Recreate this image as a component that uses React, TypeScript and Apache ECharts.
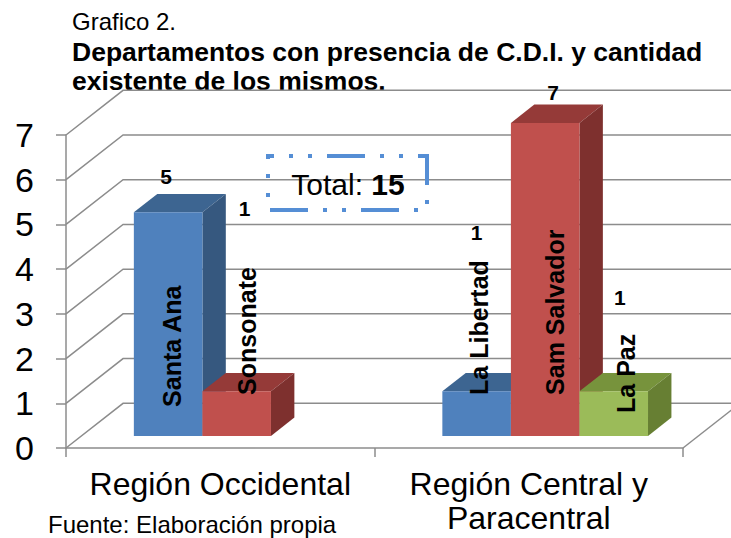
import React, { useEffect, useRef } from "react";
import * as echarts from "echarts";

const categories = ["Región Occidental", "Región Central y\nParacentral"];
const yTicks = [0, 1, 2, 3, 4, 5, 6, 7];
const seriesNames = ["Serie 1", "Serie 2", "Serie 3"];
const seriesValues: (number | null)[][] = [
  [5, 1],
  [1, 7],
  [null, 1],
];
const barNames: (string | null)[][] = [
  ["Santa Ana", "La Libertad"],
  ["Sonsonate", "Sam Salvador"],
  [null, "La Paz"],
];
// manual label placements (px offsets from bar front-top centre / front-bottom centre)
const valueLabelOffsets: (number[] | null)[][] = [
  [[-2, -36], [0, -159]],
  [[8, -183], [8, -30]],
  [null, [6, -94]],
];
const nameLabelOffsets: (number[] | null)[][] = [
  [[4, -29], [2, -41]],
  [[10, -41], [10, -41]],
  [null, [12, -23]],
];

const FONT = "'Liberation Sans', Arial, sans-serif";
const faces = [
  { front: "#4f81bd", top: "#3d6591", side: "#36587f" },
  { front: "#c0504d", top: "#953a38", side: "#7e302e" },
  { front: "#9bbb59", top: "#77933c", side: "#677f33" },
];
const GRID_COLOR = "#8c8c8c";
const GAP = 0.17;
const BARW = 2 / 9;
const DEPTH_X = 0.185;
const F1 = 0.27;
const F2 = 0.68;

export default function App() {
  const ref = useRef<HTMLDivElement>(null);
  useEffect(() => {
    if (!ref.current) return;
    const chart = echarts.init(ref.current, undefined, { renderer: "svg" });
    const total = seriesValues.flat().reduce((a: number, b) => a + (b || 0), 0);

    const frameSeries: any = {
      type: "custom",
      name: "frame",
      z: 1,
      silent: true,
      data: yTicks.map((v) => [0, v]),
      renderItem: (params: any, api: any) => {
        const v = api.value(1);
        const cs = params.coordSys;
        const p = api.coord([0, v]);
        const unit = api.size([0, 1])[1];
        const band = api.size([1, 0])[0];
        const dx = band * DEPTH_X;
        const y = p[1];
        const children: any[] = [
          {
            type: "polyline",
            shape: {
              points: [
                [cs.x, y],
                [cs.x + dx, y - unit],
                [cs.x + cs.width + dx + 20, y - unit],
              ],
            },
            style: { stroke: GRID_COLOR, lineWidth: 1.5, fill: "none" },
          },
        ];
        if (v === 0) {
          children.push({
            type: "line",
            shape: { x1: cs.x + cs.width, y1: y, x2: cs.x + cs.width + dx, y2: y - unit },
            style: { stroke: GRID_COLOR, lineWidth: 1.5 },
          });
        }
        return { type: "group", children };
      },
    };

    const barSeries: any[] = seriesValues.map((vals, s) => {
      const data: any[] = [];
      vals.forEach((v, c) => {
        if (v !== null) data.push([c, v]);
      });
      return {
        type: "custom",
        name: seriesNames[s],
        z: 2,
        data,
        renderItem: (params: any, api: any) => {
          const cat = api.value(0);
          const v = api.value(1);
          const topP = api.coord([cat, v]);
          const baseP = api.coord([cat, 0]);
          const band = api.size([1, 0])[0];
          const unit = api.size([0, 1])[1];
          const dx = band * DEPTH_X;
          const dy = -unit;
          const x0 = topP[0] - band / 2 + band * (GAP + s * BARW);
          const x1 = x0 + band * BARW;
          const ox1 = F1 * dx, oy1 = F1 * dy, ox2 = F2 * dx, oy2 = F2 * dy;
          const yt = topP[1], yb = baseP[1];
          const f = faces[s];
          const children: any[] = [
            {
              type: "polygon",
              shape: { points: [[x0 + ox1, yt + oy1], [x1 + ox1, yt + oy1], [x1 + ox2, yt + oy2], [x0 + ox2, yt + oy2]] },
              style: { fill: f.top },
            },
            {
              type: "polygon",
              shape: { points: [[x1 + ox1, yt + oy1], [x1 + ox2, yt + oy2], [x1 + ox2, yb + oy2], [x1 + ox1, yb + oy1]] },
              style: { fill: f.side },
            },
            {
              type: "rect",
              shape: { x: x0 + ox1, y: yt + oy1, width: x1 - x0, height: yb - yt },
              style: { fill: f.front },
            },
          ];
          const cx = (x0 + x1) / 2 + ox1;
          const vo = valueLabelOffsets[s][cat];
          if (vo) {
            children.push({
              type: "text",
              z2: 100,
              x: cx + vo[0],
              y: yt + oy1 + vo[1],
              style: {
                text: String(v),
                fontSize: 21,
                fontWeight: "bold",
                fontFamily: FONT,
                fill: "#000",
                align: "center",
                verticalAlign: "middle",
              },
            });
          }
          const no = nameLabelOffsets[s][cat];
          const nm = barNames[s][cat];
          if (no && nm) {
            children.push({
              type: "text",
              z2: 100,
              x: cx + no[0],
              y: yb + oy1 + no[1],
              rotation: Math.PI / 2,
              style: {
                text: nm,
                fontSize: 25,
                fontWeight: "bold",
                fontFamily: FONT,
                fill: "#000",
                align: "left",
                verticalAlign: "middle",
              },
            });
          }
          return { type: "group", children };
        },
      };
    });

    chart.setOption({
      animation: false,
      grid: { left: 66, right: 48, top: 135, bottom: 90, containLabel: false },
      xAxis: {
        type: "category",
        data: categories,
        axisLine: { show: true, lineStyle: { color: GRID_COLOR, width: 1.5 } },
        axisTick: { show: true, length: 9, lineStyle: { color: GRID_COLOR, width: 1.5 } },
        axisLabel: {
          interval: 0,
          fontSize: 32,
          lineHeight: 34,
          margin: 19,
          color: "#000",
          fontFamily: FONT,
        },
        splitLine: { show: false },
      },
      yAxis: {
        type: "value",
        min: 0,
        max: 7,
        interval: 1,
        axisLine: { show: true, lineStyle: { color: GRID_COLOR, width: 1.5 } },
        axisTick: { show: true, length: 10, lineStyle: { color: GRID_COLOR, width: 1.5 } },
        axisLabel: { fontSize: 34, margin: 32, color: "#000", fontFamily: FONT },
        splitLine: { show: false },
      },
      series: [frameSeries, ...barSeries],
      graphic: [
        {
          type: "text",
          left: 72,
          top: 9,
          style: { text: "Grafico 2.", fontSize: 24, fontFamily: FONT, fill: "#000" },
        },
        {
          type: "text",
          left: 72,
          top: 38,
          style: {
            text: "Departamentos con presencia de C.D.I. y cantidad",
            fontSize: 26.5,
            fontWeight: "bold",
            fontFamily: FONT,
            fill: "#000",
          },
        },
        {
          type: "text",
          left: 72,
          top: 67,
          style: {
            text: "existente de los mismos.",
            fontSize: 26.5,
            fontWeight: "bold",
            fontFamily: FONT,
            fill: "#000",
          },
        },
        {
          type: "text",
          left: 48,
          top: 512,
          style: { text: "Fuente: Elaboración propia", fontSize: 24, fontFamily: FONT, fill: "#000" },
        },
        {
          type: "rect",
          z: 10,
          shape: { x: 268, y: 156, width: 159, height: 54 },
          style: {
            fill: "none",
            stroke: "#558ed5",
            lineWidth: 4,
            lineDash: [38, 15, 4, 15, 4, 15],
            lineDashOffset: 32,
          },
        },
        {
          type: "text",
          z: 10,
          x: 348,
          y: 184,
          style: {
            text: "{a|Total: }{b|" + total + "}",
            align: "center",
            verticalAlign: "middle",
            rich: {
              a: { fontSize: 30, fontFamily: FONT, fill: "#000" },
              b: { fontSize: 30, fontFamily: FONT, fontWeight: "bold", fill: "#000" },
            },
          },
        },
      ],
    });
    return () => chart.dispose();
  }, []);
  return (
    <div
      ref={ref}
      style={{ position: "fixed", left: 0, top: 0, width: 731, height: 538, background: "#fff" }}
    />
  );
}
